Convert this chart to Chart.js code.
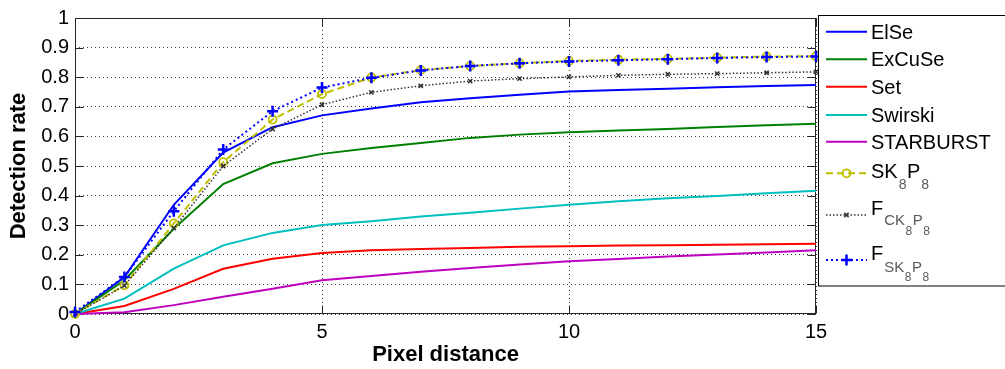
<!DOCTYPE html>
<html><head><meta charset="utf-8">
<script src="https://cdn.jsdelivr.net/npm/chart.js@4.4.1/dist/chart.umd.min.js"></script>
<style>html,body{margin:0;padding:0;background:#fff;overflow:hidden}#wrap{width:1005px;height:369px}</style>
</head><body><div id="wrap"><canvas id="c" width="1005" height="369"></canvas></div>
<script>
// ---- data ----
const distances = [0,1,2,3,4,5,6,7,8,9,10,11,12,13,14,15];
const elseRate      = [0,0.125,0.369,0.545,0.631,0.671,0.694,0.715,0.729,0.741,0.752,0.757,0.761,0.766,0.770,0.774];
const excuseRate    = [0,0.114,0.288,0.439,0.509,0.541,0.561,0.578,0.595,0.606,0.614,0.620,0.625,0.632,0.638,0.643];
const setRate       = [0,0.027,0.085,0.153,0.187,0.206,0.215,0.220,0.223,0.227,0.229,0.231,0.232,0.234,0.236,0.237];
const swirskiRate   = [0,0.052,0.153,0.232,0.274,0.301,0.313,0.329,0.342,0.356,0.369,0.381,0.391,0.399,0.408,0.416];
const starburstRate = [0,0.006,0.030,0.058,0.085,0.114,0.128,0.143,0.155,0.167,0.178,0.186,0.194,0.201,0.208,0.215];
const sk8p8Rate     = [0,0.097,0.306,0.513,0.657,0.743,0.799,0.824,0.838,0.847,0.855,0.859,0.862,0.866,0.870,0.871];
const fck8p8Rate    = [0,0.096,0.290,0.500,0.625,0.707,0.749,0.771,0.787,0.795,0.801,0.806,0.810,0.812,0.815,0.818];
const fsk8p8Rate    = [0.007,0.125,0.347,0.556,0.685,0.765,0.798,0.823,0.838,0.847,0.853,0.857,0.861,0.865,0.868,0.870];
const seriesNames   = ['ElSe','ExCuSe','Set','Swirski','STARBURST','SK8P8','FCK8P8','FSK8P8'];
const xTickLabels = ['0','5','10','15'];
const yTickLabels = ['0','0.1','0.2','0.3','0.4','0.5','0.6','0.7','0.8','0.9','1'];
const xTitle = 'Pixel distance';
const yTitle = 'Detection rate';

const FONT = "Arial, 'Liberation Sans', sans-serif";
const toXY = arr => distances.map((x,i)=>({x:x, y:arr[i]}));

const styles = [
  {c:'#0000FF', w:2},
  {c:'#008000', w:2},
  {c:'#FF0000', w:2},
  {c:'#00BFBF', w:2},
  {c:'#BF00BF', w:2},
  {c:'#BFBF00', w:2, dash:[7,4], ps:'circle', pr:4, pw:1.8},
  {c:'#333333', w:1.5, dash:[1.5,2], ps:'crossRot', pr:3, pw:1.5},
  {c:'#0000FF', w:2, dash:[2,3], ps:'cross', pr:5.5, pw:2.5}
];
const allSeries = [elseRate, excuseRate, setRate, swirskiRate, starburstRate, sk8p8Rate, fck8p8Rate, fsk8p8Rate];

const datasets = allSeries.map((arr,i)=>{
  const s = styles[i];
  return {
    label: seriesNames[i],
    data: toXY(arr),
    borderColor: s.c,
    backgroundColor: 'rgba(0,0,0,0)',
    borderWidth: s.w,
    borderDash: s.dash || [],
    pointStyle: s.ps || 'circle',
    pointRadius: s.ps ? s.pr : 0,
    pointBorderWidth: s.pw || 0,
    pointBorderColor: s.c,
    pointBackgroundColor: 'rgba(0,0,0,0)',
    pointHoverRadius: 0,
    tension: 0,
    clip: false,
    order: allSeries.length - i
  };
});

// legend rows
const legendRows = [
  {parts:[{t:'ElSe'}], y:31.7},
  {parts:[{t:'ExCuSe'}], y:59.3},
  {parts:[{t:'Set'}], y:86.7},
  {parts:[{t:'Swirski'}], y:115},
  {parts:[{t:'STARBURST'}], y:141.7},
  {parts:[{t:'SK',l:0},{t:'8',l:1},{t:'P',l:0},{t:'8',l:1}], y:173.3, base:178.3, sub:[0,11,0]},
  {parts:[{t:'F',l:0},{t:'CK',l:1},{t:'8',l:2},{t:'P',l:1},{t:'8',l:2}], y:215, base:215, sub:[0,10,20]},
  {parts:[{t:'F',l:0},{t:'SK',l:1},{t:'8',l:2},{t:'P',l:1},{t:'8',l:2}], y:260, base:260, sub:[0,12,21]}
];

const framePlugin = {
  id:'frame',
  beforeDatasetsDraw(chart){
    const {ctx, chartArea:a, scales} = chart;
    ctx.save();
    ctx.strokeStyle = '#262626';
    ctx.lineWidth = 1;
    const L = Math.round(a.left)+0.5, R = Math.round(a.right)-0.5, T = Math.round(a.top)+0.5, B = Math.round(a.bottom)-0.5;
    ctx.strokeRect(L, T, R-L, B-T);
    const tl = 8;
    ctx.beginPath();
    scales.y.ticks.forEach(t=>{
      const y = Math.round(scales.y.getPixelForValue(t.value))+0.5;
      ctx.moveTo(L, y); ctx.lineTo(L+tl, y);
      ctx.moveTo(R, y); ctx.lineTo(R-tl, y);
    });
    scales.x.ticks.forEach(t=>{
      const x = Math.round(scales.x.getPixelForValue(t.value))+0.5;
      ctx.moveTo(x, B); ctx.lineTo(x, B-tl);
      ctx.moveTo(x, T); ctx.lineTo(x, T+tl);
    });
    ctx.stroke();
    ctx.restore();
  }
};

const legendPlugin = {
  id:'customLegend',
  afterDraw(chart){
    const ctx = chart.ctx;
    ctx.save();
    // box
    ctx.fillStyle = '#fff';
    ctx.fillRect(818.5, 15.5, 200, 270.5);
    ctx.strokeStyle = '#000';
    ctx.lineWidth = 1;
    ctx.strokeRect(818.5, 15.5, 200, 270.5);
    const x0 = 826, x1 = 867, tx = 871;
    legendRows.forEach((row,i)=>{
      const s = styles[i];
      // line sample
      ctx.save();
      ctx.strokeStyle = s.c;
      ctx.lineWidth = s.w;
      ctx.setLineDash(s.dash || []);
      ctx.beginPath();
      ctx.moveTo(x0, row.y); ctx.lineTo(x1, row.y);
      ctx.stroke();
      ctx.restore();
      if (s.ps) {
        const cx=(x0+x1)/2, cy=row.y, r=s.pr;
        ctx.save();
        ctx.setLineDash([]);
        ctx.strokeStyle = s.c; ctx.lineWidth = s.pw;
        ctx.beginPath();
        if (s.ps==='circle'){ ctx.arc(cx,cy,r,0,Math.PI*2); }
        else if (s.ps==='cross'){ ctx.moveTo(cx-r,cy); ctx.lineTo(cx+r,cy); ctx.moveTo(cx,cy-r); ctx.lineTo(cx,cy+r); }
        else { const d=r*0.7071; ctx.moveTo(cx-d,cy-d); ctx.lineTo(cx+d,cy+d); ctx.moveTo(cx-d,cy+d); ctx.lineTo(cx+d,cy-d); }
        ctx.stroke();
        ctx.restore();
      }
      // text
      ctx.textBaseline = 'alphabetic';
      ctx.textAlign = 'left';
      let x = tx;
      if (row.parts.length === 1) {
        ctx.font = '20px ' + FONT;
        ctx.fillStyle = '#000';
        ctx.fillText(row.parts[0].t, x, row.y + 7);
      } else {
        const sizes = i===5 ? [20,14,14] : [20,15,12];
        row.parts.forEach(p=>{
          ctx.font = sizes[p.l] + 'px ' + FONT;
          ctx.fillStyle = p.l===0 ? '#000' : '#5a5a5a';
          ctx.fillText(p.t, x, row.base + row.sub[p.l]);
          x += ctx.measureText(p.t).width + (p.l===0 ? 1 : 0.5);
        });
      }
    });
    ctx.restore();
  }
};

new Chart(document.getElementById('c'), {
  type:'line',
  data:{datasets},
  options:{
    responsive:false,
    animation:false,
    devicePixelRatio:1,
    layout:{padding:{left:0, top:16, right:189, bottom:0}},
    plugins:{legend:{display:false}, tooltip:{enabled:false}},
    events:[],
    scales:{
      x:{
        type:'linear', min:0, max:15,
        afterFit(s){ s.height = 55; },
        ticks:{stepSize:5, color:'#000', font:{size:20, family:FONT}, padding:6,
          callback:(v,i)=>xTickLabels[i]},
        grid:{color:'#404040', lineWidth:1, drawTicks:false},
        border:{display:false, dash:[1,3]},
        title:{display:true, text:xTitle, color:'#000', font:{size:22, weight:'bold', family:FONT}, padding:{top:0,bottom:1}}
      },
      y:{
        type:'linear', min:0, max:1,
        afterFit(s){ s.width = 75; },
        ticks:{stepSize:0.1, color:'#000', font:{size:20, family:FONT}, padding:6,
          callback:(v,i)=>yTickLabels[i]},
        grid:{color:'#404040', lineWidth:1, drawTicks:false},
        border:{display:false, dash:[1,3]},
        title:{display:true, text:yTitle, color:'#000', font:{size:22, weight:'bold', family:FONT}, padding:{top:6,bottom:0}}
      }
    }
  },
  plugins:[framePlugin, legendPlugin]
});
</script></body></html>
